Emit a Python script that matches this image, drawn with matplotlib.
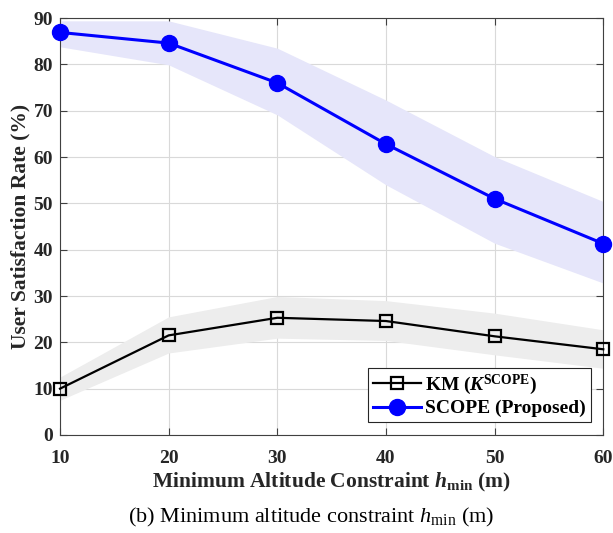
import numpy as np
import matplotlib
matplotlib.use("Agg")
from matplotlib import pyplot as plt

# values
h_min = [10, 20, 30, 40, 50, 60]

km_mean = [10.0, 21.5, 25.3, 24.6, 21.3, 18.5]
km_low = [7.5, 17.7, 20.9, 20.4, 17.3, 14.4]
km_high = [12.5, 25.5, 29.9, 29.0, 26.3, 22.7]

scope_mean = [86.9, 84.6, 76.0, 62.8, 51.0, 41.3]
scope_low = [83.8, 79.9, 69.1, 54.0, 41.4, 32.8]
scope_high = [89.4, 89.4, 83.5, 72.3, 60.1, 50.4]

x_ticks = [10, 20, 30, 40, 50, 60]
y_ticks = [0, 10, 20, 30, 40, 50, 60, 70, 80, 90]

plt.rcParams['font.family'] = 'Liberation Serif'
plt.rcParams['mathtext.fontset'] = 'custom'
plt.rcParams['mathtext.rm'] = 'Liberation Serif'
plt.rcParams['mathtext.it'] = 'Liberation Serif:italic'
plt.rcParams['mathtext.bf'] = 'Liberation Serif:bold'
plt.rcParams['mathtext.bfit'] = 'Liberation Serif:bold:italic'

fig = plt.figure(figsize=(6.13, 5.33), dpi=100)
ax = fig.add_axes([0.0979, 0.1839, 0.8862, 0.7822])

ax.fill_between(h_min, km_low, km_high, color='#ededed', lw=0)
ax.fill_between(h_min, scope_low, scope_high, color='#e6e6fa', lw=0)

ax.plot(h_min, km_mean, color='black', lw=1.6, marker='s', ms=8,
        mfc='none', mec='black', mew=1.6,
        label=r'KM ($\mathbfit{K}^{\mathbf{SCOPE}}$)', clip_on=False, zorder=4)
ax.plot(h_min, scope_mean, color='#0000ff', lw=2.2, marker='o', ms=11.5,
        mfc='#0000ff', mec='#0000ff',
        label='SCOPE (Proposed)', clip_on=False, zorder=5)

ax.set_xlim(10, 60)
ax.set_ylim(0, 90)
ax.set_xticks(x_ticks)
ax.set_yticks(y_ticks)
ax.grid(True, color='#d9d9d9', lw=0.8)
ax.set_axisbelow(True)
ax.tick_params(direction='in', top=True, right=True, length=5, width=0.8,
               color='#404040', labelsize=14)
ax.tick_params(axis='x', pad=11)
ax.tick_params(axis='y', pad=5)
for lab in ax.get_xticklabels() + ax.get_yticklabels():
    lab.set_fontweight('bold')
    lab.set_color('#262626')
for s in ax.spines.values():
    s.set_color('#404040')
    s.set_linewidth(0.8)

ax.set_xlabel(r'Minimum Altitude Constraint $\mathbfit{h}_{\mathbf{min}}$ (m)',
              fontsize=15.5, fontweight='bold', color='#262626', labelpad=3)
ax.set_ylabel('User Satisfaction Rate (%)', fontsize=15.5, fontweight='bold',
              color='#262626', labelpad=2)

leg = ax.legend(loc='lower right', fontsize=14, fancybox=False,
                edgecolor='#262626', framealpha=1, borderpad=0.25,
                handlelength=2.5, handletextpad=0.2, labelspacing=0.15,
                borderaxespad=0.65)
leg.get_frame().set_linewidth(0.8)
for t in leg.get_texts():
    t.set_fontweight('bold')

fig.text(0.507, 0.030, r'(b) Minimum altitude constraint $h_{\mathrm{min}}$ (m)',
         ha='center', va='center', fontsize=16)

fig.savefig('out.png', dpi=100)
